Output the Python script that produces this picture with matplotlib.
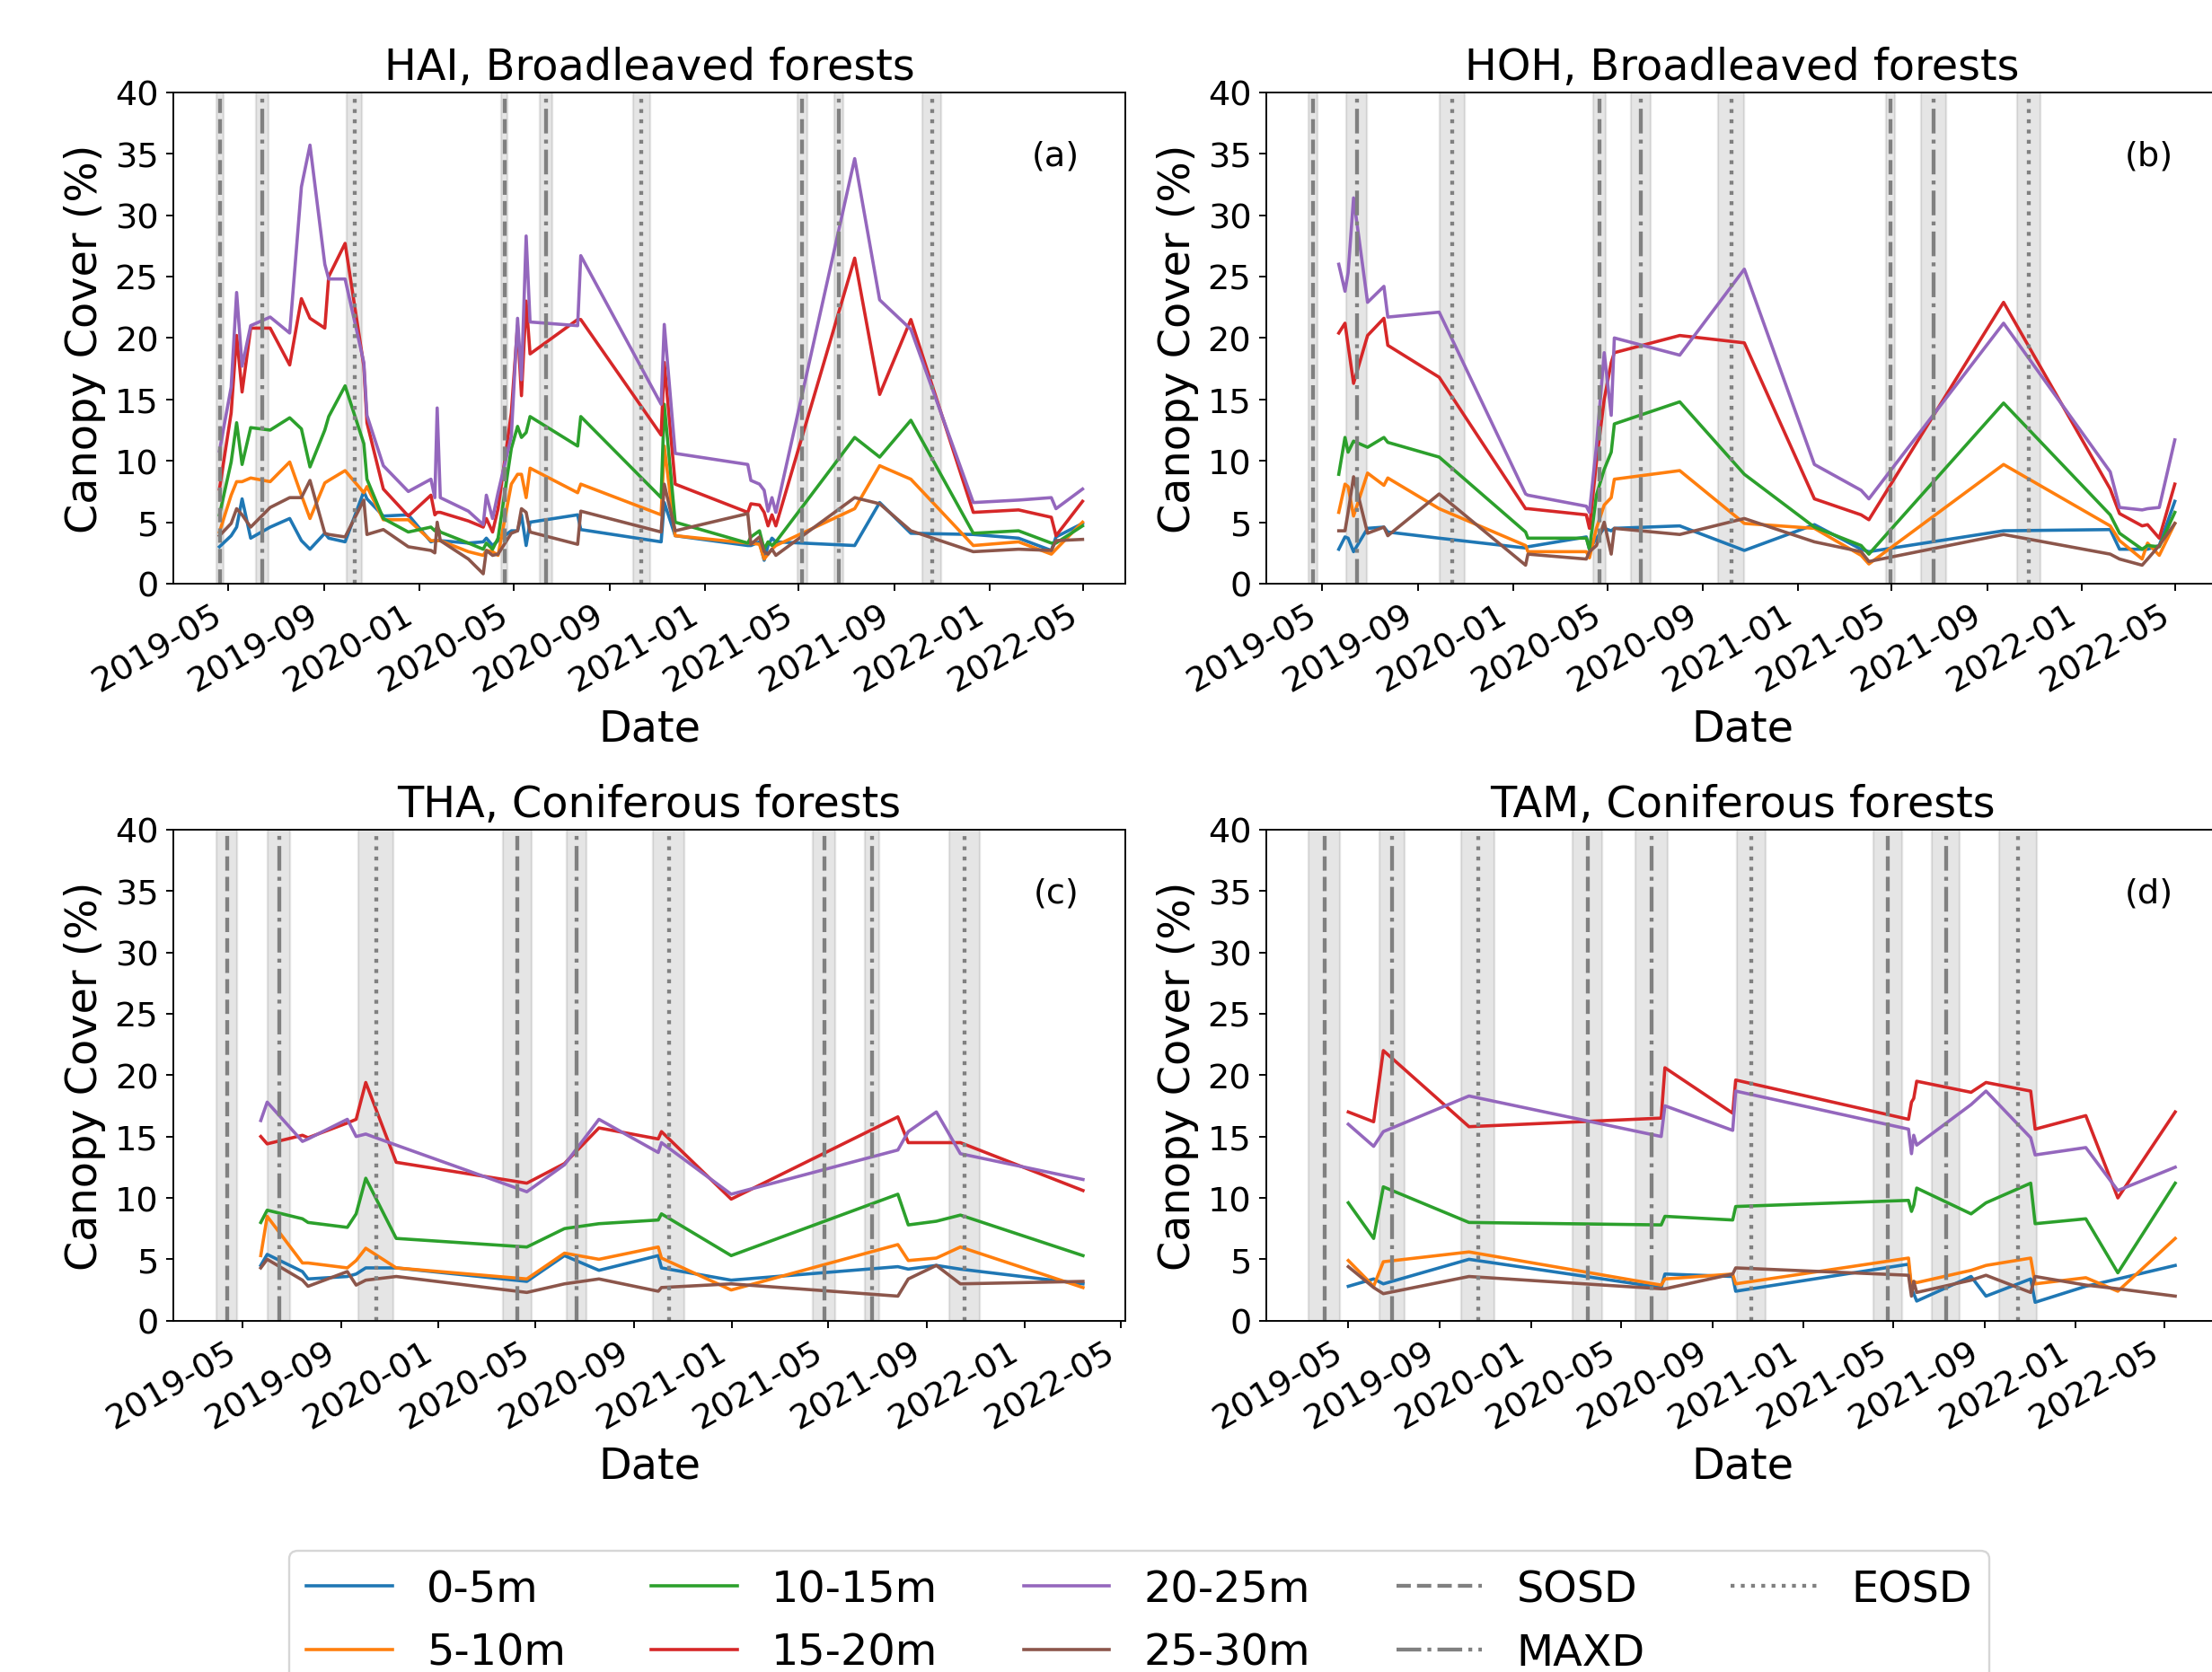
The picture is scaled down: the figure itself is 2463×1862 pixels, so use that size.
import matplotlib
matplotlib.use("Agg")
import matplotlib.pyplot as plt
import matplotlib.dates as mdates
from matplotlib.lines import Line2D
import pandas as pd

# ---------------- data ----------------
layers = ['0-5m', '5-10m', '10-15m', '15-20m', '20-25m', '25-30m']
colors = ['#1f77b4', '#ff7f0e', '#2ca02c', '#d62728', '#9467bd', '#8c564b']
titles = ['HAI, Broadleaved forests', 'HOH, Broadleaved forests',
          'THA, Coniferous forests', 'TAM, Coniferous forests']
panel_tags = ['(a)', '(b)', '(c)', '(d)']

# ---- (a) HAI ----
a_dates = ['2019-04-20', '2019-05-05', '2019-05-12', '2019-05-19', '2019-05-30', '2019-06-24',
           '2019-07-19', '2019-08-03', '2019-08-14', '2019-09-02', '2019-09-07', '2019-09-28',
           '2019-10-22', '2019-10-26', '2019-11-16', '2019-12-18', '2020-01-16', '2020-01-21',
           '2020-01-24', '2020-01-28', '2020-03-04', '2020-03-23', '2020-03-27', '2020-04-04',
           '2020-04-11', '2020-04-28', '2020-05-06', '2020-05-11', '2020-05-17', '2020-05-22',
           '2020-07-22', '2020-07-26', '2020-11-06', '2020-11-10', '2020-11-24', '2021-02-25',
           '2021-03-01', '2021-03-12', '2021-03-18', '2021-03-23', '2021-03-28', '2021-04-02',
           '2021-07-12', '2021-08-13', '2021-09-22', '2021-12-11', '2022-02-07', '2022-03-21',
           '2022-03-27', '2022-04-30']
a_0_5 = [3.0, 3.9, 4.6, 6.9, 3.7, 4.6, 5.3, 3.5, 2.8, 4.1, 3.7, 3.4, 7.5, 6.9, 5.5, 5.6, 3.4, 3.5,
         3.5, 3.5, 3.3, 3.4, 3.7, 3.1, 3.5, 4.3, 4.3, 5.6, 3.1, 5.0, 5.6, 4.4,
         3.4, 6.6, 3.9, 3.1, 3.1, 3.4, 1.9, 3.1, 3.7, 3.4, 3.1, 6.6, 4.1, 4.0, 3.7, 2.7, 3.8, 4.9]
a_5_10 = [4.2, 7.2, 8.3, 8.3, 8.6, 8.3, 9.9, 7.2, 5.3, 8.2, 8.4, 9.2, 7.4, 7.9, 5.2, 5.2, 3.5, 3.5,
          3.5, 3.5, 2.6, 2.3, 2.7, 2.6, 2.3, 8.1, 8.9, 8.9, 7.0, 9.4, 7.4, 8.1,
          5.6, 11.2, 3.9, 3.3, 3.3, 3.2, 2.0, 2.4, 2.8, 3.1, 6.1, 9.6, 8.5, 3.1, 3.4, 2.4, 2.8, 5.0]
a_10_15 = [5.6, 9.9, 13.1, 9.7, 12.7, 12.5, 13.5, 12.6, 9.5, 12.5, 13.6, 16.1, 11.4, 8.5, 5.3, 4.2,
           4.6, 4.3, 4.6, 4.2, 3.3, 2.8, 3.3, 2.8, 3.7, 11.0, 12.8, 11.9, 12.3, 13.6, 11.2, 13.6,
           7.0, 14.6, 5.0, 3.3, 3.8, 4.3, 2.8, 3.4, 3.1, 3.4, 11.9, 10.3, 13.3, 4.1, 4.3, 3.3, 3.3, 4.7]
a_15_20 = [7.7, 13.9, 20.2, 15.6, 20.8, 20.8, 17.8, 23.2, 21.6, 20.8, 25.0, 27.7, 17.7, 13.1, 7.7,
           5.5, 7.2, 5.6, 5.8, 5.8, 5.1, 4.6, 5.3, 4.2, 6.1, 13.9, 21.0, 15.3, 23.0, 18.7, 21.5, 21.5,
           12.1, 18.0, 8.1, 5.8, 6.5, 6.4, 5.8, 4.7, 5.6, 4.7, 26.5, 15.4, 21.5, 5.8, 6.0, 5.4, 3.9, 6.7]
a_20_25 = [10.8, 16.0, 23.7, 17.7, 21.0, 21.7, 20.4, 32.3, 35.7, 26.0, 24.8, 24.8, 18.0, 13.7, 9.6,
           7.5, 8.5, 7.0, 14.3, 7.0, 5.9, 4.8, 7.2, 5.3, 7.4, 12.0, 21.6, 16.6, 28.3, 21.3, 21.0, 26.7,
           14.6, 21.1, 10.6, 9.7, 8.4, 8.1, 7.6, 5.9, 7.0, 5.8, 34.6, 23.1, 20.7, 6.6, 6.8, 7.0, 6.1, 7.7]
a_25_30 = [3.9, 4.9, 6.1, 5.6, 4.6, 6.2, 7.0, 7.0, 8.4, 4.1, 4.0, 3.8, 6.8, 4.0, 4.4, 3.0, 2.7, 2.5,
           5.0, 3.5, 2.0, 0.8, 2.7, 2.3, 2.4, 4.1, 4.3, 6.1, 5.8, 4.2, 3.2, 5.9,
           4.2, 8.1, 4.3, 5.7, 3.2, 3.8, 2.6, 2.4, 2.8, 2.3, 7.0, 6.5, 4.3, 2.6, 2.8, 2.7, 3.5, 3.6]
a_sosd = ['2019-04-21', '2020-04-19', '2021-05-06']
a_sosd_sd = [4.5, 4.5, 6]
a_maxd = ['2019-06-14', '2020-06-11', '2021-06-22']
a_maxd_sd = [8, 8, 6]
a_eosd = ['2019-10-10', '2020-10-12', '2021-10-19']
a_eosd_sd = [9.5, 10.5, 12]
a_xlim = ['2019-02-20', '2022-06-24']

# ---- (b) HOH ----
b_dates = ['2019-05-22', '2019-05-30', '2019-06-03', '2019-06-10', '2019-06-28', '2019-07-19',
           '2019-07-24', '2019-09-28', '2020-01-17', '2020-01-20', '2020-04-04', '2020-04-08',
           '2020-04-17', '2020-04-27', '2020-05-06', '2020-05-10', '2020-08-02', '2020-10-24',
           '2021-01-22', '2021-03-23', '2021-04-02', '2021-09-22', '2022-02-06', '2022-02-18',
           '2022-03-19', '2022-03-26', '2022-04-10', '2022-04-30']
b_0_5 = [2.8, 3.8, 3.7, 2.6, 4.5, 4.6, 4.2, 3.7, 2.9, 3.0, 3.8, 2.8, 3.7, 4.5, 4.3, 4.5, 4.7, 2.7,
         4.8, 2.8, 2.6, 4.3, 4.4, 2.8, 2.8, 2.8, 3.1, 6.7]
b_5_10 = [5.8, 8.1, 7.9, 5.5, 9.0, 8.0, 8.6, 6.1, 3.1, 2.6, 2.6, 2.1, 4.5, 6.4, 7.0, 8.5, 9.2, 4.9,
          4.5, 2.3, 1.6, 9.7, 4.7, 3.5, 2.0, 3.3, 2.3, 4.9]
b_10_15 = [8.9, 11.9, 10.7, 11.6, 11.1, 11.9, 11.5, 10.3, 4.2, 3.7, 3.7, 2.8, 7.2, 9.3, 10.7, 13.0,
           14.8, 8.9, 4.6, 3.1, 2.4, 14.7, 5.6, 4.1, 2.8, 3.1, 3.0, 5.8]
b_15_20 = [20.4, 21.2, 19.4, 16.3, 20.2, 21.6, 19.4, 16.8, 6.1, 6.1, 5.6, 4.5, 9.9, 15.0, 18.0, 18.8,
           20.2, 19.6, 6.9, 5.6, 5.2, 22.9, 7.7, 5.7, 4.7, 4.8, 3.7, 8.1]
b_20_25 = [26.0, 23.8, 25.3, 31.4, 22.9, 24.2, 21.7, 22.1, 7.3, 7.2, 6.3, 5.8, 11.2, 18.8, 13.7, 20.0,
           18.6, 25.6, 9.7, 7.6, 6.9, 21.2, 9.1, 6.2, 6.0, 6.1, 6.2, 11.7]
b_25_30 = [4.3, 4.3, 5.8, 8.7, 4.1, 4.6, 3.9, 7.3, 1.5, 2.4, 2.0, 2.6, 3.1, 5.0, 2.4, 4.5, 4.0, 5.3,
           3.4, 2.6, 1.8, 4.0, 2.4, 2.0, 1.5, 2.0, 3.1, 4.9]
b_sosd = ['2019-04-19', '2020-04-21', '2021-04-30']
b_sosd_sd = [5.5, 8, 6]
b_maxd = ['2019-06-14', '2020-06-13', '2021-06-24']
b_maxd_sd = [13, 13, 16]
b_eosd = ['2019-10-15', '2020-10-07', '2021-10-24']
b_eosd_sd = [16, 16.5, 15]
b_xlim = ['2019-02-18', '2022-06-25']

# ---- (c) THA ----
c_dates = ['2019-05-24', '2019-06-01', '2019-07-15', '2019-07-22', '2019-09-09', '2019-09-20',
           '2019-10-02', '2019-11-09', '2020-04-20', '2020-06-06', '2020-07-19', '2020-10-01',
           '2020-10-05', '2020-12-31', '2021-07-27', '2021-08-09', '2021-09-13', '2021-10-13',
           '2022-03-15']
c_0_5 = [4.5, 5.4, 4.0, 3.4, 3.6, 3.8, 4.3, 4.3, 3.2, 5.3, 4.1, 5.3, 4.3, 3.3, 4.4, 4.2, 4.5, 4.2, 3.0]
c_5_10 = [5.3, 8.5, 4.7, 4.7, 4.3, 4.9, 5.9, 4.3, 3.4, 5.5, 5.0, 6.0, 5.1, 2.5, 6.2, 4.9, 5.1, 6.0, 2.7]
c_10_15 = [8.0, 9.0, 8.3, 8.0, 7.6, 8.7, 11.6, 6.7, 6.0, 7.5, 7.9, 8.2, 8.7, 5.3, 10.3, 7.8, 8.1, 8.6, 5.3]
c_15_20 = [15.0, 14.4, 15.1, 14.9, 16.1, 16.4, 19.4, 12.9, 11.2, 12.8, 15.7, 14.8, 15.4, 9.9, 16.6,
           14.5, 14.5, 14.5, 10.6]
c_20_25 = [16.3, 17.8, 14.6, 14.8, 16.4, 15.0, 15.2, 14.3, 10.5, 12.7, 16.4, 13.7, 14.5, 10.3, 13.9,
           15.4, 17.0, 13.6, 11.5]
c_25_30 = [4.3, 5.0, 3.3, 2.8, 4.0, 2.9, 3.3, 3.6, 2.3, 3.0, 3.4, 2.4, 2.7, 3.0, 2.0, 3.4, 4.5, 3.0, 3.2]
c_sosd = ['2019-04-12', '2020-04-08', '2021-04-26']
c_sosd_sd = [13, 18, 14]
c_maxd = ['2019-06-16', '2020-06-21', '2021-06-25']
c_maxd_sd = [14, 12, 9]
c_eosd = ['2019-10-15', '2020-10-14', '2021-10-18']
c_eosd_sd = [22, 20, 19]
c_xlim = ['2019-02-04', '2022-05-07']

# ---- (d) TAM ----
d_dates = ['2019-05-01', '2019-06-04', '2019-06-17', '2019-10-10', '2020-06-24', '2020-06-29',
           '2020-09-28', '2020-10-02', '2021-05-22', '2021-05-26', '2021-05-29', '2021-06-02',
           '2021-08-14', '2021-09-03', '2021-11-02', '2021-11-08', '2022-01-15', '2022-02-27',
           '2022-05-15']
d_0_5 = [2.8, 3.4, 3.0, 5.0, 2.7, 3.8, 3.6, 2.4, 4.6, 2.6, 2.2, 1.6, 3.6, 2.0, 3.4, 1.5, 2.8, 3.4, 4.5]
d_5_10 = [4.9, 2.8, 4.8, 5.6, 2.9, 3.4, 3.8, 3.0, 5.1, 2.7, 3.2, 3.1, 4.1, 4.5, 5.1, 3.0, 3.5, 2.4, 6.7]
d_10_15 = [9.6, 6.7, 10.9, 8.0, 7.8, 8.5, 8.2, 9.3, 9.8, 8.9, 9.4, 10.8, 8.7, 9.6, 11.2, 7.9, 8.3, 3.9, 11.2]
d_15_20 = [17.0, 16.2, 22.0, 15.8, 16.5, 20.6, 16.9, 19.6, 16.4, 17.8, 18.1, 19.5, 18.6, 19.4, 18.7,
           15.6, 16.7, 10.0, 17.0]
d_20_25 = [16.0, 14.2, 15.4, 18.3, 15.0, 17.5, 15.5, 18.7, 15.6, 13.6, 15.1, 14.3, 17.6, 18.7, 14.9,
           13.5, 14.1, 10.6, 12.5]
d_25_30 = [4.4, 2.7, 2.2, 3.6, 2.6, 2.6, 3.8, 4.3, 3.7, 2.0, 3.2, 2.3, 3.3, 3.7, 2.3, 3.6, 2.9, 2.6, 2.0]
d_sosd = ['2019-03-30', '2020-03-17', '2021-04-24']
d_sosd_sd = [21, 20, 19.5]
d_maxd = ['2019-06-29', '2020-06-11', '2021-07-11']
d_maxd_sd = [17, 22, 19]
d_eosd = ['2019-10-22', '2020-10-23', '2021-10-16']
d_eosd_sd = [22, 19, 25]
d_xlim = ['2019-01-11', '2022-07-12']

panels = [
    dict(dates=a_dates, series=[a_0_5, a_5_10, a_10_15, a_15_20, a_20_25, a_25_30],
         events=[(a_sosd, a_sosd_sd), (a_maxd, a_maxd_sd), (a_eosd, a_eosd_sd)], xlim=a_xlim),
    dict(dates=b_dates, series=[b_0_5, b_5_10, b_10_15, b_15_20, b_20_25, b_25_30],
         events=[(b_sosd, b_sosd_sd), (b_maxd, b_maxd_sd), (b_eosd, b_eosd_sd)], xlim=b_xlim),
    dict(dates=c_dates, series=[c_0_5, c_5_10, c_10_15, c_15_20, c_20_25, c_25_30],
         events=[(c_sosd, c_sosd_sd), (c_maxd, c_maxd_sd), (c_eosd, c_eosd_sd)], xlim=c_xlim),
    dict(dates=d_dates, series=[d_0_5, d_5_10, d_10_15, d_15_20, d_20_25, d_25_30],
         events=[(d_sosd, d_sosd_sd), (d_maxd, d_maxd_sd), (d_eosd, d_eosd_sd)], xlim=d_xlim),
]
event_names = ['SOSD', 'MAXD', 'EOSD']
event_styles = ['--', '-.', ':']

# ---------------- plotting ----------------
DPI = 172
fig = plt.figure(figsize=(2463 / DPI, 1863 / DPI), dpi=DPI)
positions = [[0.0784, 0.6506, 0.4304, 0.2937],
             [0.5725, 0.6506, 0.4304, 0.2937],
             [0.0784, 0.2100, 0.4304, 0.2936],
             [0.5725, 0.2100, 0.4304, 0.2936]]

for i, p in enumerate(panels):
    ax = fig.add_axes(positions[i])
    x = pd.to_datetime(p['dates']).to_pydatetime()
    for vals, col, lab in zip(p['series'], colors, layers):
        ax.plot(x, vals, color=col, lw=1.5, label=lab)
    for (evd, evsd), ls in zip(p['events'], event_styles):
        for dstr, sd in zip(evd, evsd):
            t = pd.Timestamp(dstr)
            lo = (t - pd.Timedelta(days=sd)).to_pydatetime()
            hi = (t + pd.Timedelta(days=sd)).to_pydatetime()
            ax.axvspan(lo, hi, color='gray', alpha=0.2, lw=1)
            ax.axvline(t.to_pydatetime(), color='gray', ls=ls, lw=1.8)
    ax.set_xlim(pd.Timestamp(p['xlim'][0]).to_pydatetime(), pd.Timestamp(p['xlim'][1]).to_pydatetime())
    ax.set_ylim(0, 40)
    ax.set_yticks(range(0, 41, 5))
    ax.xaxis.set_major_locator(mdates.MonthLocator(bymonth=[1, 5, 9]))
    ax.xaxis.set_major_formatter(mdates.DateFormatter('%Y-%m'))
    ax.tick_params(axis='both', labelsize=16)
    ax.tick_params(axis='x', labelrotation=30)
    for lbl in ax.get_xticklabels():
        lbl.set_horizontalalignment('right')
    ax.set_title(titles[i], fontsize=20)
    ax.set_xlabel('Date', fontsize=20)
    ax.set_ylabel('Canopy Cover (%)', fontsize=20)
    ax.text(0.927, 0.87, panel_tags[i], transform=ax.transAxes, ha='center', va='center',
            fontsize=16)

handles = [Line2D([], [], color=c, lw=1.5, label=l) for c, l in zip(colors, layers)]
handles += [Line2D([], [], color='gray', ls=ls, lw=1.8, label=n)
            for n, ls in zip(event_names, event_styles)]
fig.legend(handles=handles, loc='upper center', bbox_to_anchor=(0.515, 0.0725),
           bbox_transform=fig.transFigure, ncol=5, fontsize=20, borderaxespad=0)

fig.savefig('out.png', dpi=DPI)
